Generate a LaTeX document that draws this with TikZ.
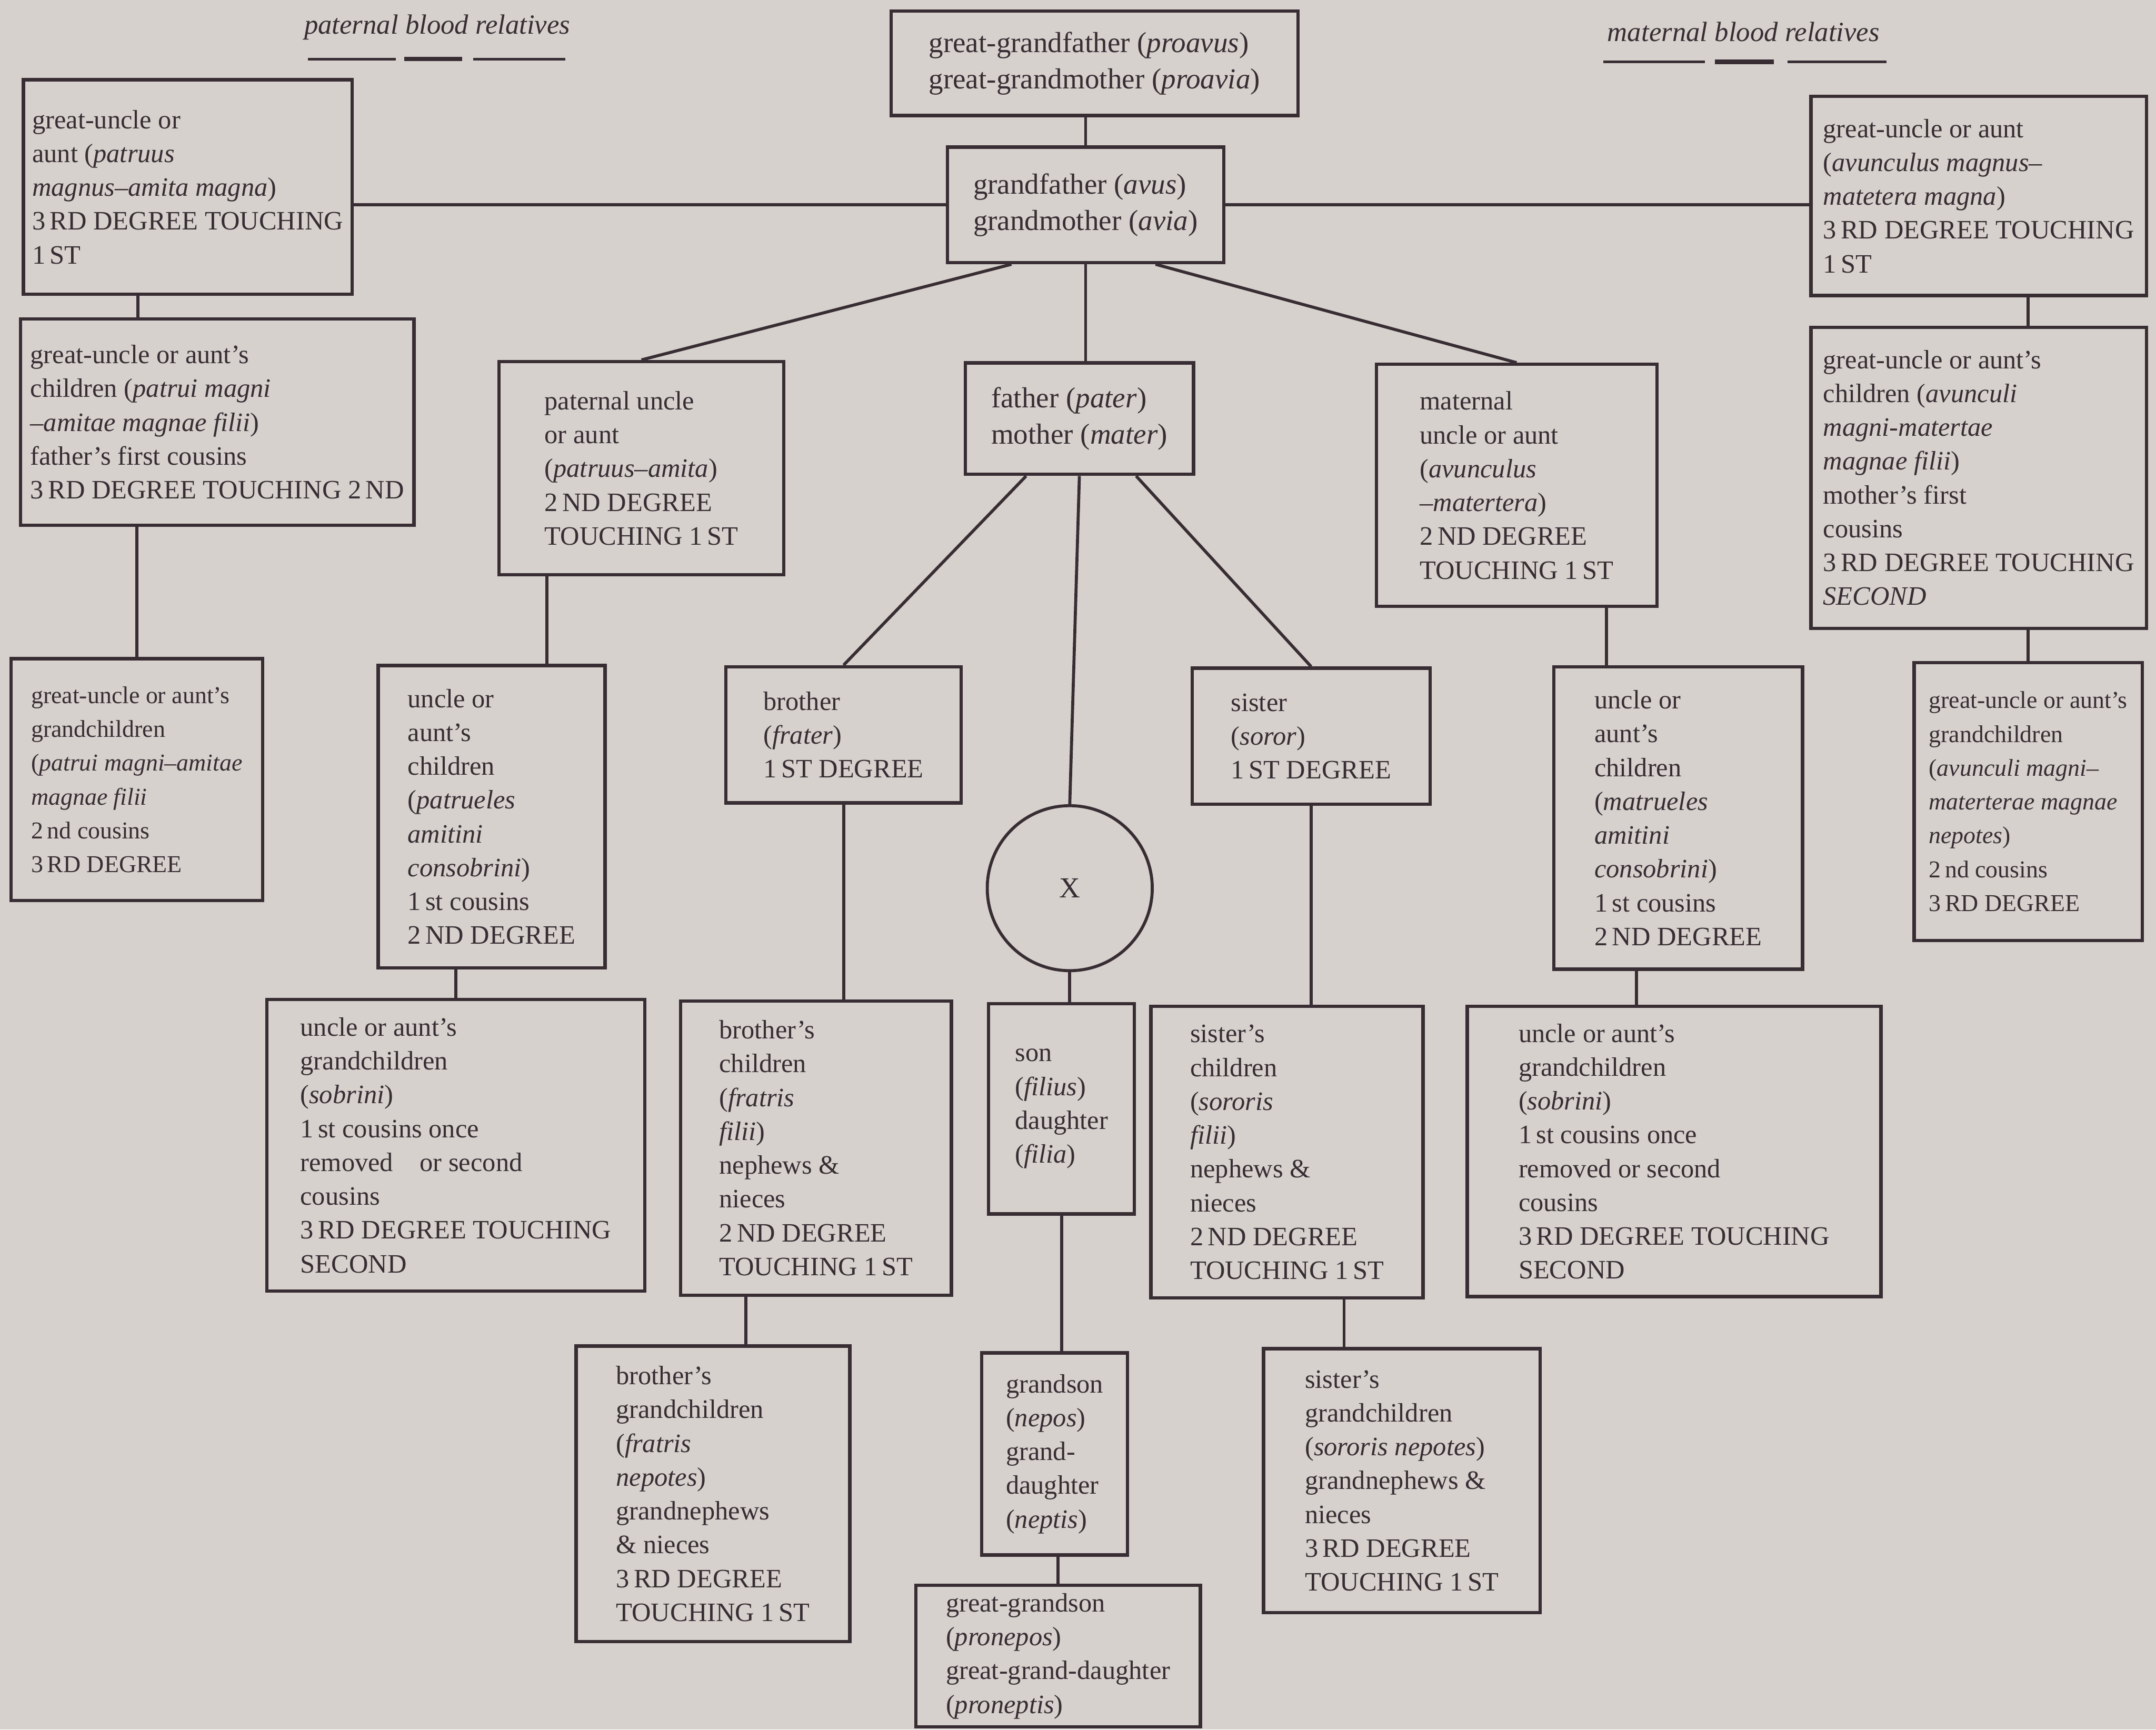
\documentclass[tikz,border=0pt]{standalone}
\usepackage{fontspec}
\setmainfont{Liberation Serif}
\usetikzlibrary{calc}
\definecolor{paper}{RGB}{214,209,205}
\definecolor{ink}{RGB}{55,45,51}

\begin{document}
\begin{tikzpicture}[x=0.02cm, y=-0.02cm,
    box/.style={draw=ink, line width=1.4pt, text=ink, align=left, inner sep=2pt,
      font=\fontsize{11}{14}\selectfont},
    big/.style={font=\fontsize{12}{15}\selectfont},
    small/.style={font=\fontsize{10}{14}\selectfont},
    wh/.style 2 args={minimum width=#1*0.02cm, minimum height=#2*0.02cm},
    link/.style={draw=ink, line width=1.25pt},
    head/.style={text=ink, font=\fontsize{11.5}{14}\selectfont\itshape}]
  \fill[paper] (0,0) rectangle (1568,1258);

  % headings
  \node[head] (pat) at (318,20) {paternal blood relatives};
  \node[head] (mat) at (1268,23) {maternal blood relatives};
  \draw[ink, line width=1.1pt] (224,43) -- (288,43);
  \draw[ink, line width=1.8pt] (294,43) -- (336,43);
  \draw[ink, line width=1.1pt] (344,43) -- (411,43);
  \draw[ink, line width=1.1pt] (1166,45) -- (1240,45);
  \draw[ink, line width=1.8pt] (1247,45) -- (1290,45);
  \draw[ink, line width=1.1pt] (1300,45) -- (1372,45);

  % ancestors
  \node[box, big, wh={296}{76}] (gg) at (796,46)
    {great-grandfather (\textit{proavus})\\great-grandmother (\textit{proavia})};
  \node[box, big, wh={201}{84}] (gp) at (789.5,149)
    {grandfather (\textit{avus})\\grandmother (\textit{avia})};
  \node[box, big, wh={166}{81}] (fm) at (785,304.5)
    {father (\textit{pater})\\mother (\textit{mater})};

  % paternal side
  \node[box, wh={239}{156}] (gul) at (136.5,136)
    {great-uncle or\\aunt (\textit{patruus}\\\textit{magnus--amita magna})\\3\,RD DEGREE TOUCHING\\1\,ST};
  \node[box, wh={286}{150}] (gucL) at (158,307)
    {great-uncle or aunt's\\children (\textit{patrui magni}\\\textit{--amitae magnae filii})\\father's first cousins\\3\,RD DEGREE TOUCHING 2\,ND};
  \node[box, small, wh={183}{176}] (gugcL) at (99.5,567)
    {great-uncle or aunt's\\grandchildren\\(\textit{patrui magni--amitae}\\\textit{magnae filii}\\2\,nd cousins\\3\,RD DEGREE};
  \node[box, wh={207}{155}] (pu) at (466.5,340.5)
    {paternal uncle\\or aunt\\(\textit{patruus--amita})\\2\,ND DEGREE\\TOUCHING 1\,ST};
  \node[box, wh={165}{220}] (pucL) at (357.5,594)
    {uncle or\\aunt's\\children\\(\textit{patrueles}\\\textit{amitini}\\\textit{consobrini})\\1\,st cousins\\2\,ND DEGREE};
  \node[box, wh={275}{212}] (sobL) at (331.5,833)
    {uncle or aunt's\\grandchildren\\(\textit{sobrini})\\1\,st cousins once\\removed\quad or second\\cousins\\3\,RD DEGREE TOUCHING\\SECOND};

  % maternal side
  \node[box, wh={244}{145}] (gur) at (1439,142.5)
    {great-uncle or aunt\\(\textit{avunculus magnus--}\\\textit{matetera magna})\\3\,RD DEGREE TOUCHING\\1\,ST};
  \node[box, wh={244}{219}] (gucR) at (1439,347.5)
    {great-uncle or aunt's\\children (\textit{avunculi}\\\textit{magni-matertae}\\\textit{magnae filii})\\mother's first\\cousins\\3\,RD DEGREE TOUCHING\\\textit{SECOND}};
  \node[box, small, wh={166}{202}] (gugcR) at (1475,583)
    {great-uncle or aunt's\\grandchildren\\(\textit{avunculi magni--}\\\textit{materterae magnae}\\\textit{nepotes})\\2\,nd cousins\\3\,RD DEGREE};
  \node[box, wh={204}{176}] (mu) at (1103,353)
    {maternal\\uncle or aunt\\(\textit{avunculus}\\\textit{--matertera})\\2\,ND DEGREE\\TOUCHING 1\,ST};
  \node[box, wh={181}{220}] (mucR) at (1220.5,595)
    {uncle or\\aunt's\\children\\(\textit{matrueles}\\\textit{amitini}\\\textit{consobrini})\\1\,st cousins\\2\,ND DEGREE};
  \node[box, wh={301}{211}] (sobR) at (1217.5,837.5)
    {uncle or aunt's\\grandchildren\\(\textit{sobrini})\\1\,st cousins once\\removed or second\\cousins\\3\,RD DEGREE TOUCHING\\SECOND};

  % brothers and sisters
  \node[box, wh={171}{99}] (brother) at (613.5,534.5)
    {brother\\(\textit{frater})\\1\,ST DEGREE};
  \node[box, wh={173}{99}] (sister) at (953.5,535.5)
    {sister\\(\textit{soror})\\1\,ST DEGREE};
  \node[box, wh={197}{214}] (bc) at (593.5,835)
    {brother's\\children\\(\textit{fratris}\\\textit{filii})\\nephews \&\\nieces\\2\,ND DEGREE\\TOUCHING 1\,ST};
  \node[box, wh={198}{212}] (sc) at (936,838)
    {sister's\\children\\(\textit{sororis}\\\textit{filii})\\nephews \&\\nieces\\2\,ND DEGREE\\TOUCHING 1\,ST};
  \node[box, wh={199}{215}] (bgc) at (518.5,1086.5)
    {brother's\\grandchildren\\(\textit{fratris}\\\textit{nepotes})\\grandnephews\\\& nieces\\3\,RD DEGREE\\TOUCHING 1\,ST};
  \node[box, wh={201}{192}] (sgc) at (1019.5,1077)
    {sister's\\grandchildren\\(\textit{sororis nepotes})\\grandnephews \&\\nieces\\3\,RD DEGREE\\TOUCHING 1\,ST};

  % ego and descendants
  \node[draw=ink, circle, line width=1.25pt, minimum size=120*0.02cm, text=ink,
    font=\fontsize{12}{14}\selectfont] (me) at (778,646) {X};
  \node[box, wh={106}{153}] (son) at (772,806.5)
    {son\\(\textit{filius})\\daughter\\(\textit{filia})};
  \node[box, wh={106}{147}] (gs) at (767,1057.5)
    {grandson\\(\textit{nepos})\\grand-\\daughter\\(\textit{neptis})};
  \node[box, wh={207}{103}] (ggs) at (769.5,1204.5)
    {great-grandson\\(\textit{pronepos})\\great-grand-daughter\\(\textit{proneptis})};

  % up the tree
  \draw[link] (gp.north) -- (gp.north |- gg.south);
  \draw[link] (gp.west) -- (gp.west -| gul.east);
  \draw[link] (gp.east) -- (gp.east -| gur.west);
  \draw[link] ($(gp.south west)!0.235!(gp.south east)$) -- (pu.north);
  \draw[link] (gp.south) -- (gp.south |- fm.north);
  \draw[link] ($(gp.south west)!0.75!(gp.south east)$) -- (mu.north);

  % paternal side
  \coordinate (p1) at ($(gul.south west)!0.35!(gul.south east)$);
  \draw[link] (p1) -- (p1 |- gucL.north);
  \draw[link] (gugcL.north) -- (gugcL.north |- gucL.south);
  \coordinate (p2) at ($(pucL.north west)!0.74!(pucL.north east)$);
  \draw[link] (p2) -- (p2 |- pu.south);
  \draw[link] (sobL.north) -- (sobL.north |- pucL.south);

  % maternal side
  \draw[link] (gugcR.north |- gur.south) -- (gugcR.north |- gucR.north);
  \draw[link] (gugcR.north) -- (gugcR.north |- gucR.south);
  \coordinate (m1) at ($(mucR.north west)!0.215!(mucR.north east)$);
  \draw[link] (m1) -- (m1 |- mu.south);
  \coordinate (m2) at ($(mucR.south west)!0.334!(mucR.south east)$);
  \draw[link] (m2) -- (m2 |- sobR.north);

  % brothers and sisters
  \draw[link] ($(fm.south west)!0.27!(fm.south east)$) -- (brother.north);
  \draw[link] ($(fm.south west)!0.745!(fm.south east)$) -- (sister.north);
  \draw[link] (brother.south) -- (brother.south |- bc.north);
  \coordinate (b1) at ($(bc.south west)!0.244!(bc.south east)$);
  \draw[link] (b1) -- (b1 |- bgc.north);
  \draw[link] (sister.south) -- (sister.south |- sc.north);
  \coordinate (s1) at ($(sc.south west)!0.707!(sc.south east)$);
  \draw[link] (s1) -- (s1 |- sgc.north);

  % line of descent
  \draw[link] (fm.south) -- (me.north);
  \draw[link] (me.south) -- (me.south |- son.north);
  \draw[link] (son.south) -- (son.south |- gs.north);
  \draw[link] (ggs.north) -- (ggs.north |- gs.south);
\end{tikzpicture}
\end{document}
